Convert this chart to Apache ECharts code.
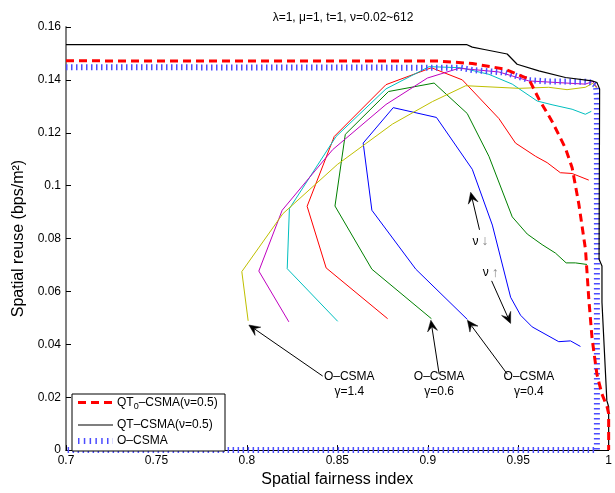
<!DOCTYPE html>
<html>
<head>
<meta charset="utf-8">
<script src="https://cdn.jsdelivr.net/npm/echarts@6/dist/echarts.min.js"></script>
<style>
  html, body { margin: 0; padding: 0; background: #fff; }
  #chart { width: 615px; height: 493px; }
</style>
</head>
<body>
<div id="chart"></div>
<script>
// Axis ticks
const xTicks = [0.7, 0.75, 0.8, 0.85, 0.9, 0.95, 1];
const xTickLabels = ['0.7', '0.75', '0.8', '0.85', '0.9', '0.95', '1'];
const yTicks = [0, 0.02, 0.04, 0.06, 0.08, 0.1, 0.12, 0.14, 0.16];
const yTickLabels = ['0', '0.02', '0.04', '0.06', '0.08', '0.1', '0.12', '0.14', '0.16'];

// O-CSMA curves for different gamma values, nu swept 0.02 ~ 612 ([fairness, reuse])
const oCsmaG04 = [[0.9219,0.0494],[0.8934,0.0684],[0.8691,0.0907],[0.8643,0.1161],[0.8809,0.1295],[0.9048,0.1258],[0.9246,0.1062],[0.9357,0.0851],[0.9458,0.0578],[0.9513,0.0510],[0.9577,0.0466],[0.9724,0.0410],[0.9789,0.0413],[0.9844,0.0392]];
const oCsmaG06 = [[0.9020,0.0497],[0.8691,0.0684],[0.8487,0.0923],[0.8544,0.1194],[0.8783,0.1356],[0.9035,0.1388],[0.9218,0.1273],[0.9338,0.1111],[0.9467,0.0882],[0.9550,0.0817],[0.9632,0.0777],[0.9706,0.0745],[0.9765,0.0708],[0.9816,0.0708],[0.9880,0.0702]];
const oCsmaG08 = [[0.8778,0.0497],[0.8438,0.0689],[0.8333,0.0922],[0.8483,0.1186],[0.8769,0.1382],[0.9020,0.1446],[0.9191,0.1400],[0.9393,0.1254],[0.9485,0.1161],[0.9596,0.1111],[0.9660,0.1087],[0.9733,0.1049],[0.9798,0.1046],[0.9890,0.1021]];
const oCsmaG10 = [[0.8502,0.0487],[0.8223,0.0686],[0.8235,0.0913],[0.8493,0.1186],[0.8769,0.1366],[0.9007,0.1450],[0.9182,0.1446],[0.9338,0.1421],[0.9467,0.1384],[0.9605,0.1320],[0.9687,0.1306],[0.9798,0.1289],[0.9871,0.1270],[0.9904,0.1281]];
const oCsmaG12 = [[0.8232,0.0485],[0.8066,0.0677],[0.8195,0.0907],[0.8474,0.1136],[0.8769,0.1307],[0.8998,0.1407],[0.9173,0.1444],[0.9393,0.1430],[0.9559,0.1396],[0.9871,0.1384],[0.9912,0.1394],[0.9935,0.1372]];
const oCsmaG14 = [[0.8007,0.0489],[0.7972,0.0675],[0.8199,0.0894],[0.8500,0.1080],[0.8805,0.1233],[0.9026,0.1318],[0.9210,0.1378],[0.9504,0.1368],[0.9669,0.1372],[0.9770,0.1363],[0.9871,0.1372],[0.9912,0.1387],[0.9935,0.1368]];

// Reference envelopes
const qt0Csma = [[0.7,0.1472],[0.9063,0.1471],[0.9246,0.1462],[0.9430,0.1440],[0.9559,0.1403],[0.9614,0.1328],[0.9688,0.1242],[0.9761,0.1142],[0.9798,0.1068],[0.9835,0.0931],[0.9872,0.0758],[0.9890,0.0573],[0.9908,0.0424],[0.9935,0.0287],[0.9963,0.0212],[0.9991,0.0164],[1.0,0.0138],[1.0,0]];
const qtCsma = [[0.7,0.1533],[0.9217,0.1533],[0.9246,0.1524],[0.9320,0.1514],[0.9439,0.1498],[0.9494,0.1459],[0.9614,0.1434],[0.9761,0.1409],[0.9908,0.1396],[0.9935,0.1390],[0.9950,0.1366],[0.9947,0.0722],[0.9963,0.0696],[0.9963,0.0559],[0.9990,0.0187],[1.0,0.0164],[1.0,0]];
const oCsmaEnvelope = [[0.7,0.1448],[0.9182,0.1446],[0.9246,0.1437],[0.9430,0.1428],[0.9559,0.1399],[0.9669,0.1394],[0.9871,0.1393],[0.9908,0.1390],[0.9930,0.1378],[0.9935,0.1328],[0.9935,0],[0.7,0]];

// Annotations: [text, text anchor, arrow tail, arrow tip] in data units
const gammaNotes = [
  ['O\u2013CSMA', '\u03b3=1.4', [0.8566,0.0249], [0.8419,0.0280], [0.8011,0.0473]],
  ['O\u2013CSMA', '\u03b3=0.6', [0.9063,0.0249], [0.9063,0.0287], [0.9017,0.0491]],
  ['O\u2013CSMA', '\u03b3=0.4', [0.9559,0.0249], [0.9440,0.0287], [0.9219,0.0491]]
];
const nuNotes = [
  ['\u2193', [0.9292,0.0789], [0.9286,0.0833], [0.9237,0.0975]],
  ['\u2191', [0.9348,0.0671], [0.9353,0.0640], [0.9458,0.0479]]
];

const FONT = '"Liberation Sans", Arial, Helvetica, sans-serif';

function thin(name, data, color) {
  return {
    name, type: 'line', data, showSymbol: false, symbol: 'none', silent: true,
    lineStyle: { color, width: 1 }, z: 2, animation: false
  };
}

const chart = echarts.init(document.getElementById('chart'), null, { renderer: 'canvas' });

chart.setOption({
  animation: false,
  backgroundColor: '#fff',
  title: {
    text: '\u03bb=1, \u03bc=1, t=1, \u03bd=0.02~612',
    left: 338, top: 7, textAlign: 'center',
    textStyle: { fontFamily: FONT, fontSize: 12, fontWeight: 'normal', color: '#000' }
  },
  grid: { left: 66, right: 5, top: 27, bottom: 36 },
  xAxis: {
    type: 'value', min: xTicks[0], max: xTicks[xTicks.length - 1], interval: 0.05,
    name: 'Spatial fairness index', nameLocation: 'middle', nameGap: 16,
    nameTextStyle: { fontFamily: FONT, fontSize: 16, color: '#000' },
    axisLine: { show: true, onZero: false, lineStyle: { color: '#000', width: 1 } },
    axisTick: { show: true, inside: true, length: 5, lineStyle: { color: '#000' } },
    axisLabel: {
      fontFamily: FONT, fontSize: 12, color: '#000', margin: 5,
      formatter: (v, i) => xTickLabels[i]
    },
    splitLine: { show: false }
  },
  yAxis: {
    type: 'value', min: yTicks[0], max: yTicks[yTicks.length - 1], interval: 0.02,
    name: 'Spatial reuse (bps/m\u00b2)', nameLocation: 'middle', nameGap: 36, nameRotate: 90,
    nameTextStyle: { fontFamily: FONT, fontSize: 16, color: '#000' },
    axisLine: { show: true, onZero: false, lineStyle: { color: '#808080', width: 2 } },
    axisTick: { show: true, inside: true, length: 5, lineStyle: { color: '#000' } },
    axisLabel: {
      fontFamily: FONT, fontSize: 12, color: '#000', margin: 5,
      formatter: (v, i) => yTickLabels[i]
    },
    splitLine: { show: false }
  },
  series: [
    thin('O-CSMA \u03b3=0.4', oCsmaG04, '#0000ff'),
    thin('O-CSMA \u03b3=0.6', oCsmaG06, '#008000'),
    thin('O-CSMA \u03b3=0.8', oCsmaG08, '#ff0000'),
    thin('O-CSMA \u03b3=1.0', oCsmaG10, '#00bfbf'),
    thin('O-CSMA \u03b3=1.2', oCsmaG12, '#bf00bf'),
    thin('O-CSMA \u03b3=1.4', oCsmaG14, '#bfbf00'),
    {
      name: 'O-CSMA', type: 'line', data: oCsmaEnvelope, showSymbol: false, symbol: 'none',
      silent: true, z: 3, animation: false,
      lineStyle: { color: '#4d4dff', width: 6, type: [1.5, 3.5], cap: 'butt' }
    },
    {
      name: 'QT-CSMA(\u03bd=0.5)', type: 'line', data: qtCsma, showSymbol: false, symbol: 'none',
      silent: true, z: 4, animation: false,
      lineStyle: { color: '#000', width: 1.2 }
    },
    {
      name: 'QT0-CSMA(\u03bd=0.5)', type: 'line', data: qt0Csma, showSymbol: false, symbol: 'none',
      silent: true, z: 5, animation: false,
      lineStyle: { color: '#ff0000', width: 3, type: [8, 5] }
    }
  ]
});

// Annotations and legend drawn as graphics, positioned through the grid's scales
function px(p) { return chart.convertToPixel({ gridIndex: 0 }, p); }

function arrow(tail, tip) {
  const a = px(tail), b = px(tip);
  const dx = b[0] - a[0], dy = b[1] - a[1];
  const len = Math.hypot(dx, dy), ux = dx / len, uy = dy / len;
  const L = 11, W = 5, notch = 0.6 * L;
  const nx = -uy, ny = ux;
  const base = [b[0] - ux * L, b[1] - uy * L];
  const mid = [b[0] - ux * notch, b[1] - uy * notch];
  return [
    { type: 'line', z: 20, silent: true,
      shape: { x1: a[0], y1: a[1], x2: mid[0], y2: mid[1] },
      style: { stroke: '#000', lineWidth: 1 } },
    { type: 'polygon', z: 20, silent: true,
      shape: { points: [b, [base[0] + nx * W, base[1] + ny * W], mid, [base[0] - nx * W, base[1] - ny * W]] },
      style: { fill: '#000', stroke: '#000', lineWidth: 0.5 } }
  ];
}

const graphics = [];
gammaNotes.forEach(([t1, t2, at, tail, tip]) => {
  const p = px(at);
  graphics.push({
    type: 'text', z: 20, silent: true, x: p[0], y: p[1],
    style: { text: t1 + '\n' + t2, font: '12px ' + FONT, fill: '#000',
             align: 'center', verticalAlign: 'middle', lineHeight: 15 }
  });
  graphics.push(...arrow(tail, tip));
});
nuNotes.forEach(([sym, at, tail, tip]) => {
  const p = px(at);
  graphics.push({
    type: 'text', z: 20, silent: true, x: p[0], y: p[1],
    style: {
      text: '{v|\u03bd}{a|' + sym + '}', align: 'center', verticalAlign: 'middle',
      rich: {
        v: { font: '12px ' + FONT, fill: '#000', padding: [0, 3, 0, 0] },
        a: { font: '14px ' + FONT, fill: '#888' }
      }
    }
  });
  graphics.push(...arrow(tail, tip));
});

// Legend box
const lx = 72, ly = 394, lw = 153, lh = 57;
graphics.push({
  type: 'rect', z: 30, silent: true,
  shape: { x: lx, y: ly, width: lw, height: lh },
  style: { fill: '#fff', stroke: '#000', lineWidth: 1 }
});
const legendRows = [
  { y: 402.5, style: { stroke: '#ff0000', lineWidth: 3, lineDash: [8, 5] },
    text: '{t|QT}{s|0}{t|\u2013CSMA(\u03bd=0.5)}' },
  { y: 425, style: { stroke: '#000', lineWidth: 1.2 },
    text: '{t|QT\u2013CSMA(\u03bd=0.5)}' },
  { y: 441, style: { stroke: '#4d4dff', lineWidth: 6, lineDash: [1.5, 4.3] },
    text: '{t|O\u2013CSMA}' }
];
legendRows.forEach(r => {
  graphics.push({
    type: 'line', z: 31, silent: true,
    shape: { x1: 78, y1: r.y, x2: 113, y2: r.y }, style: r.style
  });
  graphics.push({
    type: 'text', z: 31, silent: true, x: 117, y: r.y,
    style: {
      text: r.text, verticalAlign: 'middle', align: 'left',
      rich: {
        t: { font: '12px ' + FONT, fill: '#000' },
        s: { font: '9px ' + FONT, fill: '#000', padding: [9, 0, 0, 0] }
      }
    }
  });
});

chart.setOption({ graphic: graphics });
</script>
</body>
</html>
